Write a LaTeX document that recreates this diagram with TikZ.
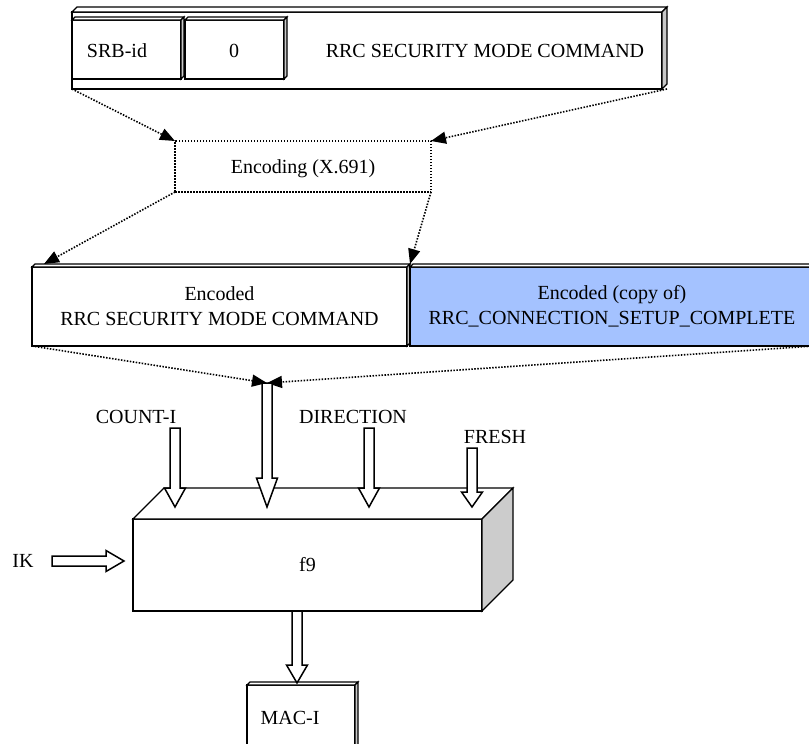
\documentclass[tikz,border=0pt]{standalone}
\usepackage{fontspec}
\setmainfont{Liberation Serif}
\usepackage{tikz}
\usetikzlibrary{calc}
\usetikzlibrary{arrows.meta}
\definecolor{copyblue}{RGB}{164,194,255}
\definecolor{rimgray}{RGB}{200,200,200}
\tikzset{box/.style={draw,line width=1.4pt,fill=white,inner sep=0pt,outer sep=0pt}}
\tikzset{rim/.style={draw,line width=1.1pt,fill=rimgray}}
\tikzset{dots/.style={dash pattern=on 1.5pt off 1.5pt,line width=1.6pt}}
\tikzset{ptr/.style={dots,-{Triangle[length=15pt,width=12pt]}}}
\tikzset{hollow/.style={draw,line width=1.5pt,fill=white,line join=miter}}
\tikzset{lbl/.style={anchor=base,inner sep=0pt}}
% top and right faces of a box node
\newcommand{\boxfaces}[3]{%
  \draw[rim,fill=white] (#1.north west) -- ++(#2,-#2) -- ($(#1.north east)+(#2,-#2)$) -- (#1.north east) -- cycle;
  \draw[rim,fill=#3] (#1.north east) -- ++(#2,-#2) -- ($(#1.south east)+(#2,-#2)$) -- (#1.south east) -- cycle;}
% open block arrow from #1 to #2, head length #3
\newcommand{\hollowarrow}[3]{%
  \coordinate (#2-hb) at ($(#2)!#3!(#1)$);
  \draw[hollow] ($(#1)!5pt!90:(#2)$) -- ($(#2-hb)!5pt!90:(#2)$) -- ($(#2-hb)!10.5pt!90:(#2)$)
    -- (#2) -- ($(#2-hb)!10.5pt!-90:(#2)$) -- ($(#2-hb)!5pt!-90:(#2)$) -- ($(#1)!5pt!-90:(#2)$) -- cycle;}

\begin{document}
\begin{tikzpicture}[x=1pt,y=-1pt]
  \useasboundingbox (0,0) rectangle (809,744);
  \begin{scope}[font=\fontsize{20}{25}\selectfont]
    % message to be protected
    \node[box,minimum width=590pt,minimum height=77pt] (msg) at (367,50.5) {};
    \boxfaces{msg}{5}{rimgray}
    \node[box,minimum width=109pt,minimum height=59pt] (srb) at (126.5,49.5) {};
    \boxfaces{srb}{3}{rimgray}
    \node[box,minimum width=99pt,minimum height=59pt] (zero) at (234.5,49.5) {};
    \boxfaces{zero}{3}{rimgray}
    \node[lbl] (srbtxt) at (117,57) {SRB-id};
    \node[lbl] (zerotxt) at (234,57) {0};
    \node[lbl] (msgtxt) at (485,57) {RRC SECURITY MODE COMMAND};

    \node[draw,dots,minimum width=256pt,minimum height=51pt,inner sep=0pt,outer sep=0pt] (enc) at (303,166.5) {};
    \node[lbl] (enctxt) at (303,173) {Encoding (X.691)};

    % encoded messages
    \node[box,minimum width=375pt,minimum height=79pt,align=center] (smc) at (219.5,306.5)
      {Encoded\\RRC SECURITY MODE COMMAND};
    \boxfaces{smc}{3}{rimgray}
    \node[box,fill=copyblue,minimum width=404pt,minimum height=79pt,align=center] (csc) at (612,306.5)
      {Encoded (copy of)\\RRC\_CONNECTION\_SETUP\_COMPLETE};
    \boxfaces{csc}{3}{rimgray}

    \coordinate (smc-top) at ($(smc.north west)+(12,-3)$);
    \coordinate (csc-top) at ($(csc.north west)+(0,-3)$);
    \coordinate (msg-end) at ($(msg.south east)+(5,0)$);
    \draw[ptr] (msg.south west) -- (enc.north west);
    \draw[ptr] (msg-end) -- (enc.north east);
    \draw[ptr] (enc.south west) -- (smc-top);
    \draw[ptr] (enc.south east) -- (csc-top);

    % f9
    \node[box,line width=1.5pt,minimum width=349pt,minimum height=92pt] (f9) at (307.5,565) {f9};
    \boxfaces{f9}{31}{black!20}

    \coordinate (dat-in) at (267,383);
    \coordinate (dat-tip) at (267,507);
    \draw[ptr] (smc.south west) -- (dat-in);
    \draw[ptr] (csc.south east) -- (dat-in);
    \hollowarrow{dat-in}{dat-tip}{29pt}

    \node[lbl] (cnt) at (136,423) {COUNT-I};
    \node[lbl] (dir) at (353,423) {DIRECTION};
    \node[lbl] (fresh) at (495,443) {FRESH};
    \node[lbl] (ik) at (23,567) {IK};
    \coordinate (cnt-in) at (175,428);
    \coordinate (cnt-tip) at (175,507);
    \coordinate (dir-in) at (369,428);
    \coordinate (dir-tip) at (369,507);
    \coordinate (fr-in) at (472,448);
    \coordinate (fr-tip) at (472,507);
    \coordinate (ik-in) at (52,561);
    \coordinate (ik-tip) at (124,561);
    \hollowarrow{cnt-in}{cnt-tip}{19pt}
    \hollowarrow{dir-in}{dir-tip}{19pt}
    \hollowarrow{fr-in}{fr-tip}{15pt}
    \hollowarrow{ik-in}{ik-tip}{18pt}

    % output
    \node[box,minimum width=108pt,minimum height=85pt] (mac) at (301,727.5) {};
    \boxfaces{mac}{3}{rimgray}
    \node[lbl] (mactxt) at (290,724) {MAC-I};
    \coordinate (mac-in) at (297,611);
    \coordinate (mac-tip) at (297,683);
    \hollowarrow{mac-in}{mac-tip}{18pt}
  \end{scope}
\end{tikzpicture}
\end{document}
